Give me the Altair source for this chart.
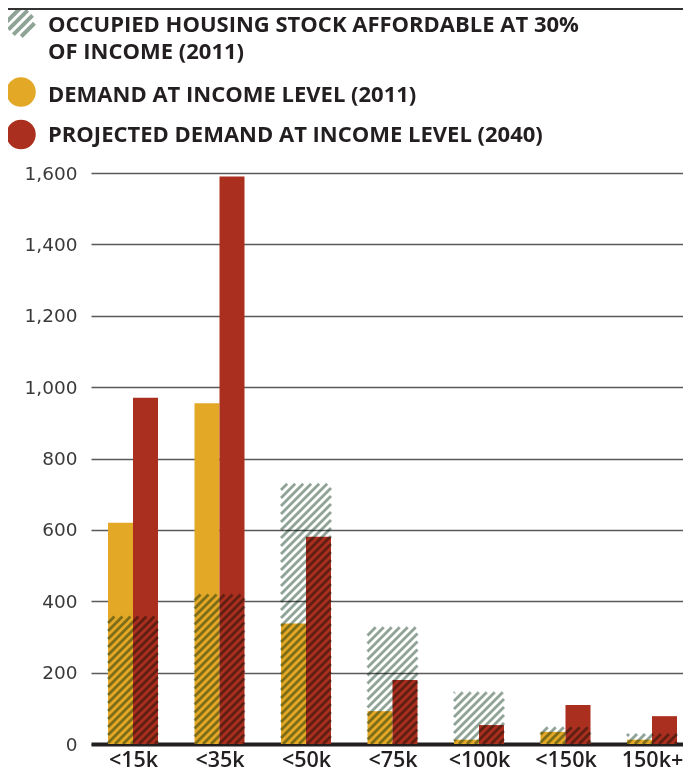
import math
import altair as alt
import pandas as pd

# ---------------- data ----------------
categories = ["<15k", "<35k", "<50k", "<75k", "<100k", "<150k", "150k+"]
demand_2011 = [620, 955, 338, 92, 12, 34, 12]
demand_2040 = [970, 1590, 581, 179, 53, 109, 78]
stock_2011 = [357, 419, 729, 327, 145, 47, 28]
y_ticks = [0, 200, 400, 600, 800, 1000, 1200, 1400, 1600]
legend_labels = [
    ["OCCUPIED HOUSING STOCK AFFORDABLE AT 30%", "OF INCOME (2011)"],
    "DEMAND AT INCOME LEVEL (2011)",
    "PROJECTED DEMAND AT INCOME LEVEL (2040)",
]

# ---------------- style / layout ----------------
YELLOW = "#e2a826"
RED = "#ab2f1e"
HATCH = "#8fa497"
INK = "#231f20"
FONT = "Open Sans"

PAD_L, PAD_T, PAD_B = 83, 165, 28
W, H = 592, 571
Y_MAX = 1600
STEP = 86.5      # px between category centres
FIRST = 42       # px from plot left to first category centre
BAR_PX = 25      # px width of one bar
HALF = BAR_PX / STEP

x_min = -FIRST / STEP
x_max = (W - FIRST) / STEP
xscale = alt.Scale(domain=[x_min, x_max], nice=False, zero=False, padding=0)
yscale = alt.Scale(domain=[0, Y_MAX], nice=False, padding=0)
px_per_unit = H / Y_MAX

df = pd.DataFrame({
    "idx": list(range(len(categories))),
    "cat": categories,
    "d2011": demand_2011,
    "d2040": demand_2040,
    "stock": stock_2011,
})

label_expr = "[" + ",".join("'%s'" % c for c in categories) + "][datum.value]"

x_axis = alt.Axis(
    values=list(range(len(categories))), labelExpr=label_expr, title=None,
    ticks=False, grid=False, domainColor=INK, domainWidth=4,
    labelFont=FONT, labelFontSize=21.5, labelFontWeight=600, labelColor=INK,
    labelPadding=5,
)
y_axis = alt.Axis(
    values=y_ticks, format=",d", title=None, ticks=False, domain=False,
    grid=True, gridColor="#5a5a5a", gridWidth=1.4,
    labelFont="DejaVu Sans", labelFontSize=18.5, labelFontWeight="normal",
    labelColor="#3a3a3a", labelPadding=14,
)

base = alt.Chart(df)

bars_2011 = base.mark_bar(color=YELLOW).transform_calculate(
    xl=f"datum.idx - {HALF}"
).encode(
    x=alt.X("xl:Q", scale=xscale, axis=x_axis),
    x2="idx:Q",
    y=alt.Y("d2011:Q", scale=yscale, axis=y_axis),
    y2=alt.datum(0),
)

bars_2040 = base.mark_bar(color=RED).transform_calculate(
    xr=f"datum.idx + {HALF}"
).encode(
    x=alt.X("idx:Q", scale=xscale),
    x2="xr:Q",
    y=alt.Y("d2040:Q", scale=yscale),
    y2=alt.datum(0),
)

# hatch stripes derived from the stock values (45-degree lines clipped to each rectangle)
P = 8.0
rows = []
for i, v in enumerate(stock_2011):
    L = FIRST + STEP * i - BAR_PX
    R = L + 2 * BAR_PX
    h = v * px_per_unit
    k0 = math.floor((L - h) / P)
    k1 = math.ceil(R / P)
    for k in range(k0, k1 + 1):
        c = k * P
        xs = max(L, c)
        xe = min(R, c + h)
        if xe - xs > 0.6:
            rows.append({
                "x": x_min + xs / STEP, "x2": x_min + xe / STEP,
                "y": (xs - c) / px_per_unit, "y2": (xe - c) / px_per_unit,
            })
stripes_df = pd.DataFrame(rows)

stripes = alt.Chart(stripes_df).mark_rule(
    color=HATCH, strokeWidth=2.8, blend="multiply", strokeCap="butt"
).encode(
    x=alt.X("x:Q", scale=xscale),
    x2="x2:Q",
    y=alt.Y("y:Q", scale=yscale),
    y2="y2:Q",
)

# ---------------- legend (custom) ----------------
parts = []
for d in [-1.05, -0.35, 0.35, 1.05]:
    t = math.sqrt((1 - d * d / 2) / 2)
    parts.append(f"M{d/2 + t:.3f},{d/2 - t:.3f}L{d/2 - t:.3f},{d/2 + t:.3f}")
hatch_path = "".join(parts)

one = alt.Chart(pd.DataFrame({"a": [0]}))
leg_hatch = one.mark_point(
    shape=hatch_path, size=784, color=HATCH, strokeWidth=4, opacity=1, filled=False
).encode(x=alt.value(-70.5), y=alt.value(-150.5))
leg_y = one.mark_circle(size=870, color=YELLOW, opacity=1).encode(
    x=alt.value(-70), y=alt.value(-81))
leg_r = one.mark_circle(size=870, color=RED, opacity=1).encode(
    x=alt.value(-70), y=alt.value(-38.5))

text_y = [-141, -71, -31]
leg_texts = [
    one.mark_text(
        align="left", baseline="alphabetic", font=FONT, fontSize=22,
        fontWeight="bold", color=INK, lineHeight=27,
    ).encode(x=alt.value(-43), y=alt.value(ty), text=alt.value(lbl))
    for lbl, ty in zip(legend_labels, text_y)
]

top_rule = one.mark_rule(color="#333333", strokeWidth=2).encode(
    x=alt.value(-PAD_L), x2=alt.value(W), y=alt.value(-PAD_T + 1))

chart = alt.layer(
    bars_2011, bars_2040, stripes, leg_hatch, leg_y, leg_r, top_rule, *leg_texts
).properties(
    width=W, height=H,
    autosize=alt.AutoSizeParams(type="none"),
    padding={"left": PAD_L, "top": PAD_T, "right": 0, "bottom": PAD_B},
    background="white",
).configure_view(stroke=None)

chart.save("out.html", embed_options={"renderer": "svg", "actions": False})
